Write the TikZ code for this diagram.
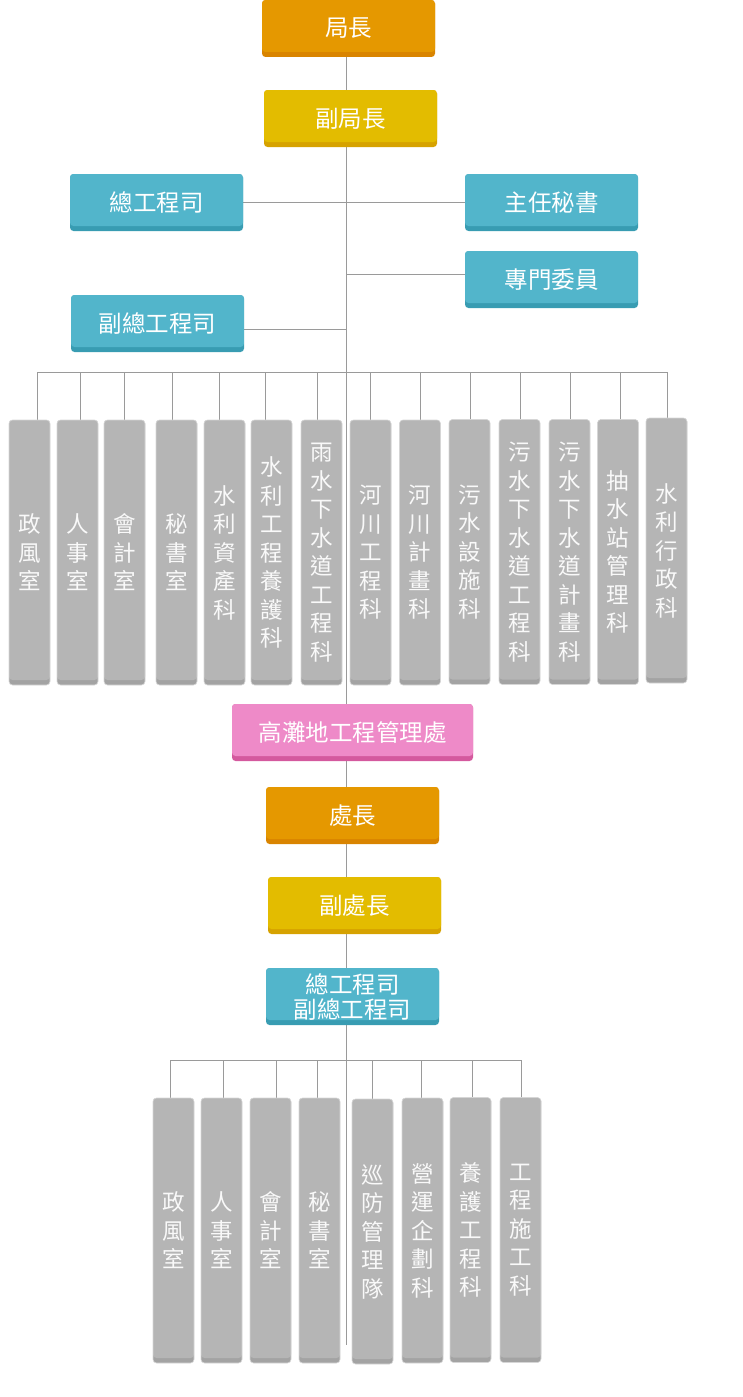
\documentclass[tikz,border=0pt]{standalone}
\usepackage{fontspec}
\newfontfamily\cjk{Noto Sans CJK TC}
\usetikzlibrary{calc}
\definecolor{orgL}{HTML}{E59800}
\definecolor{orgD}{HTML}{D98400}
\definecolor{yelL}{HTML}{E3BC00}
\definecolor{yelD}{HTML}{D6A200}
\definecolor{teaL}{HTML}{52B5CB}
\definecolor{teaD}{HTML}{389CB2}
\definecolor{pnkL}{HTML}{EE8AC8}
\definecolor{pnkD}{HTML}{D4599E}
\definecolor{gryL}{HTML}{B5B5B5}
\definecolor{gryD}{HTML}{A3A3A3}
\definecolor{gryE}{HTML}{D6D6D6}
\definecolor{lineC}{HTML}{9A9A9A}
\pgfdeclarelayer{bg}
\pgfsetlayers{bg,main}
\tikzset{
  box/.style 2 args={rounded corners=3.5pt, inner sep=0pt, fill=#2, text=white, align=center,
    path picture={\fill[#1] ([yshift=5pt]path picture bounding box.south west) rectangle (path picture bounding box.north east);}},
  wide/.style={minimum width=173pt, minimum height=57pt, font=\cjk\fontsize{23.5}{25}\selectfont},
  col/.style={box={gryL}{gryD}, minimum width=41pt, minimum height=265pt, draw=gryE, line width=0.6pt,
    font=\cjk\fontsize{22.5}{28.5}\selectfont, text=white!95!gray},
  conn/.style={draw=lineC, line width=0.9pt},
}
\begin{document}
\begin{tikzpicture}[x=1pt,y=-1pt]
\useasboundingbox (0,0) rectangle (743,1397);
% top management
\node[wide, box={orgL}{orgD}] (ju) at (348.5,28.5) {局長};
\node[wide, box={yelL}{yelD}] (fuju) at (350.5,118.5) {副局長};
\node[wide, box={teaL}{teaD}] (zong) at (156.5,202.5) {總工程司};
\node[wide, box={teaL}{teaD}] (zhu) at (551.5,202.5) {主任秘書};
\node[wide, box={teaL}{teaD}] (zhuan) at (551.5,279.5) {專門委員};
\node[wide, box={teaL}{teaD}] (fuzong) at (157.5,323.5) {副總工程司};
% upper columns
\node[col] (u1) at (29.5,552.5) {政\\風\\室};
\node[col] (u2) at (77.5,552.5) {人\\事\\室};
\node[col] (u3) at (124.5,552.5) {會\\計\\室};
\node[col] (u4) at (176.5,552.5) {秘\\書\\室};
\node[col] (u5) at (224.5,552.5) {水\\利\\資\\產\\科};
\node[col] (u6) at (271.5,552.5) {水\\利\\工\\程\\養\\護\\科};
\node[col] (u7) at (321.5,552.5) {雨\\水\\下\\水\\道\\工\\程\\科};
\node[col] (u8) at (370.5,552.5) {河\\川\\工\\程\\科};
\node[col] (u9) at (420,552.5) {河\\川\\計\\畫\\科};
\node[col] (u10) at (469.5,552) {污\\水\\設\\施\\科};
\node[col] (u11) at (519.5,552) {污\\水\\下\\水\\道\\工\\程\\科};
\node[col] (u12) at (569.5,552) {污\\水\\下\\水\\道\\計\\畫\\科};
\node[col] (u13) at (618,552) {抽\\水\\站\\管\\理\\科};
\node[col] (u14) at (666.5,550.5) {水\\利\\行\\政\\科};
% lower management
\node[wide, box={pnkL}{pnkD}, minimum width=241pt] (gao) at (352.5,732.5) {高灘地工程管理處};
\node[wide, box={orgL}{orgD}] (chu) at (352.5,815.5) {處長};
\node[wide, box={yelL}{yelD}] (fuchu) at (354.5,905.5) {副處長};
\node[wide, box={teaL}{teaD}] (zfz) at (352.5,996.5) {總工程司\\副總工程司};
% lower columns
\node[col] (l1) at (173.5,1230.5) {政\\風\\室};
\node[col] (l2) at (221.5,1230.5) {人\\事\\室};
\node[col] (l3) at (270.5,1230.5) {會\\計\\室};
\node[col] (l4) at (319.5,1230.5) {秘\\書\\室};
\node[col] (l5) at (372.5,1231.5) {巡\\防\\管\\理\\隊};
\node[col] (l6) at (422.5,1230.5) {營\\運\\企\\劃\\科};
\node[col] (l7) at (470.5,1230) {養\\護\\工\\程\\科};
\node[col] (l8) at (520.5,1230) {工\\程\\施\\工\\科};
% coordinates
\coordinate (s) at (346,0);
\coordinate (s2) at (346.7,0);
\coordinate (end2) at (346.7,1345);
\coordinate (zw) at ([yshift=5.5pt]zhuan.west);
\coordinate (fw) at ([yshift=-6pt]fuzong.east);
\foreach \i/\x in {1/37.4,2/80.6,3/124.6,4/172.5,5/219.4,6/265.4,7/317.5,8/370.1,9/420.4,10/470.6,11/520.4,12/570.6,13/620.4,14/667.8}
  \coordinate (d\i) at (\x,372);
\foreach \i/\x in {1/170.3,2/223.3,3/276.3,4/317.3,5/372.3,6/421.3,7/472.3,8/521.7}
  \coordinate (e\i) at (\x,1060);
\begin{pgfonlayer}{bg}
  \draw[conn] (ju.south -| s) -- (gao.north -| s);
  \draw[conn] (zong.east) -- (zhu.west);
  \draw[conn] (zw) -- (zw -| s);
  \draw[conn] (fw) -- (fw -| s);
  \draw[conn] (d1) -- (d14);
  \foreach \i in {1,...,14} \draw[conn] (d\i) -- (d\i |- u\i.north);
  \draw[conn] (gao.south -| s2) -- (end2);
  \draw[conn] (e1) -- (e8);
  \foreach \i in {1,...,8} \draw[conn] (e\i) -- (e\i |- l\i.north);
\end{pgfonlayer}
\end{tikzpicture}
\end{document}
